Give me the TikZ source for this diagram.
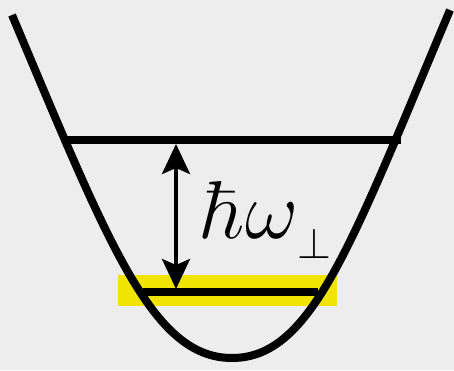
\documentclass[tikz,border=0pt]{standalone}
\usepackage{graphicx}
\usetikzlibrary{arrows.meta}
\definecolor{bg}{RGB}{237,237,237}
\definecolor{band}{RGB}{240,228,0}
\begin{document}
\begin{tikzpicture}[x=1pt,y=-1pt,
  well/.style={line width=8pt,line join=round},
  level/.style={line width=8pt},
  gap/.style={line width=3.5pt,{Stealth[length=30pt,width=28pt,inset=6pt]}-{Stealth[length=30pt,width=28pt,inset=6pt]}},
  lbl/.style={inner sep=0pt,font=\fontsize{24.88}{30}\selectfont}]
\fill[bg] (0,0) rectangle (454,370);
\useasboundingbox (0,0) rectangle (454,370);
% yellow band
\fill[band] (118,275) rectangle (337,306);
% potential well
\draw[well] (12,15) .. controls (109,245) and (152,358) .. (232,358)
            .. controls (312,358) and (351,245) .. (450,10);
% levels
\coordinate (u1) at (65,140);
\coordinate (u2) at (401,140);
\coordinate (l1) at (143,292);
\coordinate (l2) at (318,292);
\draw[level] (u1) -- (u2);
\draw[level] (l1) -- (l2);
% arrow
\coordinate (at) at (176,144);
\coordinate (ab) at (176,289);
\draw[gap] (at) -- (ab);
% label
\node[lbl,anchor=base west] (hw) at (202,238) {\scalebox{3.3}{$\hbar\omega$}};
\node[lbl,anchor=base west] (perp) at (297,258) {\scalebox{1.75}{$\perp$}};
\end{tikzpicture}
\end{document}
